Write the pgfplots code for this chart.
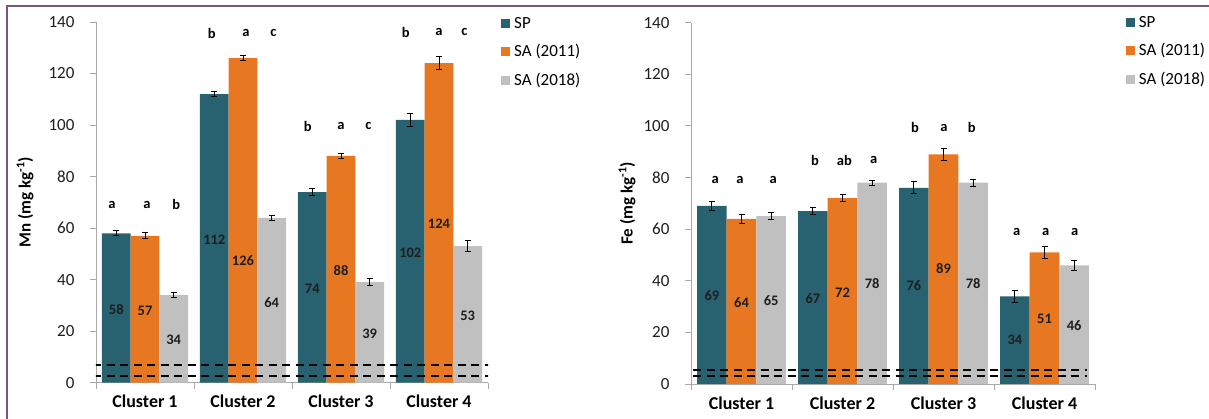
\documentclass[border=0pt]{standalone}
\usepackage{pgfplots}
\usepackage{pgfplotstable}
\pgfplotsset{compat=1.18}
\usepackage{fontspec}
\setmainfont{Carlito}

\definecolor{spcol}{RGB}{40,97,112}
\definecolor{sa11col}{RGB}{232,119,34}
\definecolor{sa18col}{RGB}{192,192,192}
\definecolor{framecol}{RGB}{112,92,128}
\definecolor{axcol}{RGB}{170,170,170}
\definecolor{txtcol}{RGB}{30,30,30}

% Mn: means and standard errors per cluster
\pgfplotstableread{
x sp spe sa sae sb sbe
0 58 1.0 57 1.2 34 1.0
1 112 1.0 126 1.0 64 1.0
2 74 1.3 88 1.0 39 1.3
3 102 2.5 124 2.6 53 2.1
}\mntable

% Fe: means and standard errors per cluster
\pgfplotstableread{
x sp spe sa sae sb sbe
0 69 1.8 64 1.75 65 1.4
1 67 1.5 72 1.3 78 1.0
2 76 2.3 89 2.3 78 1.4
3 34 2.3 51 2.3 46 1.9
}\fetable

\tikzset{
  lettr/.style={font=\bfseries\fontsize{14.5}{14.5}\selectfont, text=black},
  vlab/.style={font=\bfseries\fontsize{14.5}{14.5}\selectfont, text=txtcol},
  limitline/.style={black, line width=1.8pt, dash pattern=on 8pt off 5.5pt},
}

\pgfplotsset{
  errstyle/.style={
    error bars/.cd, y dir=both, y explicit,
    error bar style={line width=1pt, black},
    error mark options={rotate=90, mark size=3pt, line width=1pt, black}},
  clusterbars/.style={
    scale only axis,
    ybar, bar width=0.293,
    xmin=-0.5, xmax=3.5, ymin=0, ymax=140,
    ytick={0,20,...,140},
    xtick={0,1,2,3},
    xticklabels={Cluster 1,Cluster 2,Cluster 3,Cluster 4},
    minor xtick={-0.5,0.5,1.5,2.5,3.5},
    axis x line*=bottom, axis y line*=left,
    axis line style={draw=axcol, line width=0.9pt},
    tick align=outside,
    major tick length=6pt, minor tick length=6pt,
    major x tick style={draw=none},
    minor x tick style={draw=axcol, line width=0.9pt},
    ytick style={draw=axcol, line width=0.9pt},
    /pgf/number format/assume math mode=true,
    yticklabel style={font=\fontsize{17}{17}\selectfont, text=txtcol, xshift=-12pt},
    xticklabel style={font=\bfseries\fontsize{18}{18}\selectfont, text=black, yshift=-3pt},
    ylabel style={font=\bfseries\fontsize{17}{17}\selectfont, anchor=center},
    legend style={draw=none, fill=none, anchor=north west,
      font=\fontsize{17}{17}\selectfont, row sep=10.8pt},
    legend cell align=left,
    legend image code/.code={\fill[##1] (0pt,-4.5pt) rectangle (9pt,4.5pt);\path (11pt,0pt);},
  },
}

\begin{document}
\begin{tikzpicture}[x=1pt,y=1pt]
\useasboundingbox (0,0) rectangle (1209,419);
\fill[white] (0,0) rectangle (1209,419);
\draw[framecol, line width=2pt] (7,0) -- (7,413) -- (1209,413);

% ---------- Mn ----------
\begin{axis}[clusterbars,
  at={(96pt,36.3pt)}, anchor=south west,
  width=392pt, height=360.7pt,
  ylabel={Mn (mg kg\textsuperscript{-1})},
  ylabel style={at={(axis description cs:-0.181,0.5)}},
  legend style={at={(axis description cs:1.0255,1.025)}},
]
\addplot[fill=spcol, draw=none, bar shift=-0.293, errstyle] table[x=x, y=sp, y error=spe]{\mntable};
\addplot[fill=sa11col, draw=none, bar shift=0, errstyle] table[x=x, y=sa, y error=sae]{\mntable};
\addplot[fill=sa18col, draw=none, bar shift=0.293, errstyle] table[x=x, y=sb, y error=sbe]{\mntable};
\legend{SP, SA (2011), SA (2018)}
\addplot[limitline, sharp plot, forget plot] coordinates {(-0.53,6.75) (3.52,6.75)};
\addplot[limitline, sharp plot, forget plot] coordinates {(-0.53,2.5) (3.52,2.5)};
% significance letters
\node[lettr] at (axis cs:-0.337,69) {a};
\node[lettr] at (axis cs:0.02,69) {a};
\node[lettr] at (axis cs:0.32,69) {b};
\node[lettr] at (axis cs:0.68,135.6) {b};
\node[lettr] at (axis cs:1.03,135.6) {a};
\node[lettr] at (axis cs:1.31,135.6) {c};
\node[lettr] at (axis cs:1.66,99.6) {b};
\node[lettr] at (axis cs:2.0,99.6) {a};
\node[lettr] at (axis cs:2.28,99.6) {c};
\node[lettr] at (axis cs:2.66,136) {b};
\node[lettr] at (axis cs:3.0,136) {a};
\node[lettr] at (axis cs:3.26,136) {c};
% mean values
\node[vlab] at (axis cs:-0.293,28.2) {58};
\node[vlab] at (axis cs:0,28) {57};
\node[vlab] at (axis cs:0.293,16.6) {34};
\node[vlab] at (axis cs:0.707,55.4) {112};
\node[vlab] at (axis cs:1,47.4) {126};
\node[vlab] at (axis cs:1.293,31.2) {64};
\node[vlab] at (axis cs:1.707,36.4) {74};
\node[vlab] at (axis cs:2,43.5) {88};
\node[vlab] at (axis cs:2.293,18.9) {39};
\node[vlab] at (axis cs:2.707,50.5) {102};
\node[vlab] at (axis cs:3,61.6) {124};
\node[vlab] at (axis cs:3.293,25.9) {53};
\end{axis}

% ---------- Fe ----------
\begin{axis}[clusterbars,
  at={(691pt,35pt)}, anchor=south west,
  width=404pt, height=361.3pt,
  ylabel={Fe (mg kg\textsuperscript{-1})},
  ylabel style={at={(axis description cs:-0.158,0.5)}},
  legend style={at={(axis description cs:1.0686,1.03)}},
]
\addplot[fill=spcol, draw=none, bar shift=-0.293, errstyle] table[x=x, y=sp, y error=spe]{\fetable};
\addplot[fill=sa11col, draw=none, bar shift=0, errstyle] table[x=x, y=sa, y error=sae]{\fetable};
\addplot[fill=sa18col, draw=none, bar shift=0.293, errstyle] table[x=x, y=sb, y error=sbe]{\fetable};
\legend{SP, SA (2011), SA (2018)}
\addplot[limitline, sharp plot, forget plot] coordinates {(-0.48,5.4) (3.42,5.4)};
\addplot[limitline, sharp plot, forget plot] coordinates {(-0.48,3.2) (3.42,3.2)};
% significance letters
\node[lettr] at (axis cs:-0.26,79) {a};
\node[lettr] at (axis cs:-0.015,79) {a};
\node[lettr] at (axis cs:0.315,79) {a};
\node[lettr] at (axis cs:0.728,86.8) {b};
\node[lettr] at (axis cs:1.018,86.8) {ab};
\node[lettr] at (axis cs:1.31,86.8) {a};
\node[lettr] at (axis cs:1.718,99.3) {b};
\node[lettr] at (axis cs:2.005,99.3) {a};
\node[lettr] at (axis cs:2.28,99.3) {b};
\node[lettr] at (axis cs:2.725,58.8) {a};
\node[lettr] at (axis cs:3.012,58.8) {a};
\node[lettr] at (axis cs:3.3,58.8) {a};
% mean values
\node[vlab] at (axis cs:-0.293,34.2) {69};
\node[vlab] at (axis cs:0,31.5) {64};
\node[vlab] at (axis cs:0.293,32.2) {65};
\node[vlab] at (axis cs:0.707,33) {67};
\node[vlab] at (axis cs:1,35.5) {72};
\node[vlab] at (axis cs:1.293,39) {78};
\node[vlab] at (axis cs:1.707,38) {76};
\node[vlab] at (axis cs:2,44.6) {89};
\node[vlab] at (axis cs:2.293,38.8) {78};
\node[vlab] at (axis cs:2.707,17) {34};
\node[vlab] at (axis cs:3,25.3) {51};
\node[vlab] at (axis cs:3.293,22.7) {46};
\end{axis}
\end{tikzpicture}
\end{document}
